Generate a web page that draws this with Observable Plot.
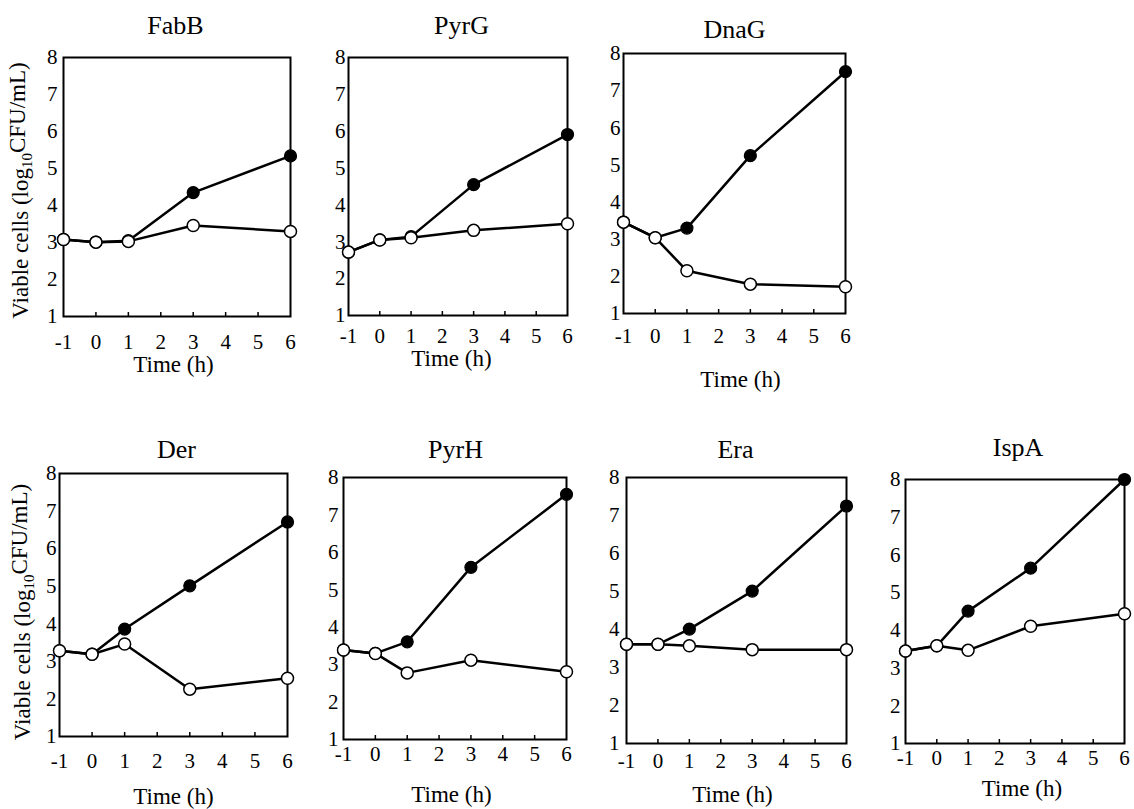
<!DOCTYPE html>
<html><head><meta charset="utf-8">
<script src="https://cdn.jsdelivr.net/npm/d3@7"></script>
<script src="https://cdn.jsdelivr.net/npm/@observablehq/plot@0.6"></script>
<style>
html,body{margin:0;padding:0;background:#fff;overflow:hidden}
#chart{position:relative;width:1134px;height:809px}
#chart svg{position:absolute;overflow:visible}
#chart svg text{font-family:'Liberation Serif','Times New Roman',Times,serif;font-weight:normal}
</style></head><body><div id="chart"></div>
<script>
// ---- data ----
const time = [-1, 0, 1, 3, 6];
const xTicks = [-1, 0, 1, 2, 3, 4, 5, 6];
const innerTicks = [0, 1, 2, 3, 4, 5];
const yTicks = [1, 2, 3, 4, 5, 6, 7, 8];
const genes = ["FabB", "PyrG", "DnaG", "Der", "PyrH", "Era", "IspA"];

const filledFabB = [3.08, 3.01, 3.05, 4.35, 5.34];
const openFabB   = [3.08, 3.01, 3.03, 3.46, 3.30];
const filledPyrG = [2.72, 3.05, 3.14, 4.55, 5.91];
const openPyrG   = [2.72, 3.05, 3.11, 3.31, 3.49];
const filledDnaG = [3.46, 3.04, 3.30, 5.25, 7.51];
const openDnaG   = [3.46, 3.04, 2.15, 1.79, 1.72];
const filledDer  = [3.28, 3.19, 3.86, 5.01, 6.71];
const openDer    = [3.28, 3.19, 3.46, 2.26, 2.55];
const filledPyrH = [3.39, 3.30, 3.61, 5.60, 7.55];
const openPyrH   = [3.39, 3.30, 2.78, 3.12, 2.81];
const filledEra  = [3.61, 3.61, 4.01, 5.01, 7.25];
const openEra    = [3.61, 3.61, 3.57, 3.47, 3.47];
const filledIspA = [3.45, 3.59, 4.51, 5.65, 8.00];
const openIspA   = [3.45, 3.59, 3.47, 4.11, 4.44];

const xLabel = "Time (h)";
const yLabel = "Viable cells (log10CFU/mL)";

const series = {
  FabB: [filledFabB, openFabB], PyrG: [filledPyrG, openPyrG], DnaG: [filledDnaG, openDnaG],
  Der: [filledDer, openDer], PyrH: [filledPyrH, openPyrH], Era: [filledEra, openEra], IspA: [filledIspA, openIspA]
};

// ---- layout (frame boxes in page px) ----
const layout = {
  FabB: {L: 63,  R: 290,  T: 57,  B: 316, tdx: -1.5, tdy: -32.3, xPad: 17.1, yPad: 6, ldx: -3.5, ldy: 48, ylab: -43, ydy: 3.5},
  PyrG: {L: 348, R: 567,  T: 57,  B: 315, tdx: 3.5,  tdy: -32.3, xPad: 12.5, yPad: 3, ldx: -6.5, ldy: 43},
  DnaG: {L: 623, R: 845,  T: 53,  B: 313, tdx: 0,    tdy: -24.3, xPad: 14.1, yPad: 3, ldx: 6,    ldy: 66},
  Der:  {L: 59,  R: 287,  T: 473, B: 736, tdx: 3,    tdy: -24.3, xPad: 16.1, yPad: 3, ldx: 0,    ldy: 60, ylab: -37, ydy: 7},
  PyrH: {L: 343, R: 566,  T: 477, B: 739, tdx: 0.5,  tdy: -28.3, xPad: 7,    yPad: 5, ldx: -3.5, ldy: 55},
  Era:  {L: 626, R: 846,  T: 477, B: 743, tdx: -1,   tdy: -28.3, xPad: 9.1,  yPad: 7, ldx: -4,   ldy: 51},
  IspA: {L: 905, R: 1124, T: 479, B: 743, tdx: 3,    tdy: -32.3, xPad: 7,    yPad: 5, ldx: 7,    ldy: 45}
};

const font = "'Liberation Serif', 'Times New Roman', Times, serif";
const chart = document.getElementById("chart");
const mL = 58, mR = 15, mT = 45, mB = 75;

for (const name of genes) {
  const p = layout[name];
  const [filled, open] = series[name];
  const filledRows = time.map((t, i) => ({t, v: filled[i]}));
  const openRows = time.map((t, i) => ({t, v: open[i]}));
  const tickLen = 4 * 7 / (p.B - p.T);
  const marks = [
    Plot.ruleX(innerTicks, {x: d => d, y1: 1, y2: 1 + tickLen, stroke: "black", strokeWidth: 1.5}),
    Plot.axisX({ticks: xTicks, tickSize: 0, tickPadding: p.xPad, tickFormat: d => String(d), label: null, fontSize: 21}),
    Plot.axisY({ticks: yTicks, tickSize: 0, tickPadding: p.yPad, tickFormat: d => String(d), label: null, fontSize: 21}),
    Plot.frame({stroke: "black", strokeWidth: 2}),
    Plot.line(filledRows, {x: "t", y: "v", stroke: "black", strokeWidth: 2.5}),
    Plot.line(openRows, {x: "t", y: "v", stroke: "black", strokeWidth: 2.5}),
    Plot.dot(filledRows, {x: "t", y: "v", r: 6, fill: "black", stroke: "black", strokeWidth: 1.2}),
    Plot.dot(openRows, {x: "t", y: "v", r: 6, fill: "white", stroke: "black", strokeWidth: 1.5}),
    Plot.text([name], {frameAnchor: "top", textAnchor: "middle", lineAnchor: "middle", dx: p.tdx, dy: p.tdy, fontSize: 26, fill: "black"}),
    Plot.text([xLabel], {frameAnchor: "bottom", textAnchor: "middle", lineAnchor: "middle", dx: p.ldx, dy: p.ldy, fontSize: 23, fill: "black"})
  ];
  if (p.ylab !== undefined) {
    marks.push(Plot.text([yLabel], {frameAnchor: "left", textAnchor: "middle", lineAnchor: "middle", rotate: -90, dx: p.ylab, dy: p.ydy, fontSize: 23, fill: "black"}));
  }
  const svg = Plot.plot({
    width: p.R - p.L + mL + mR,
    height: p.B - p.T + mT + mB,
    marginLeft: mL, marginRight: mR, marginTop: mT, marginBottom: mB,
    style: {fontFamily: font, fontSize: "21px", color: "black", background: "transparent", overflow: "visible"},
    x: {domain: [-1, 6]},
    y: {domain: [1, 8]},
    marks
  });
  svg.style.left = (p.L - mL) + "px";
  svg.style.top = (p.T - mT) + "px";
  // subscript "10" in the y label
  d3.select(svg).selectAll("text").filter(function () { return this.textContent === yLabel; })
    .each(function () {
      const t = d3.select(this);
      t.text(null);
      t.append("tspan").text("Viable cells (log");
      t.append("tspan").attr("dy", "0.3em").attr("font-size", "15px").text("10");
      t.append("tspan").attr("dy", "-0.3em").text("CFU/mL)");
    });
  chart.appendChild(svg);
}
</script></body></html>
